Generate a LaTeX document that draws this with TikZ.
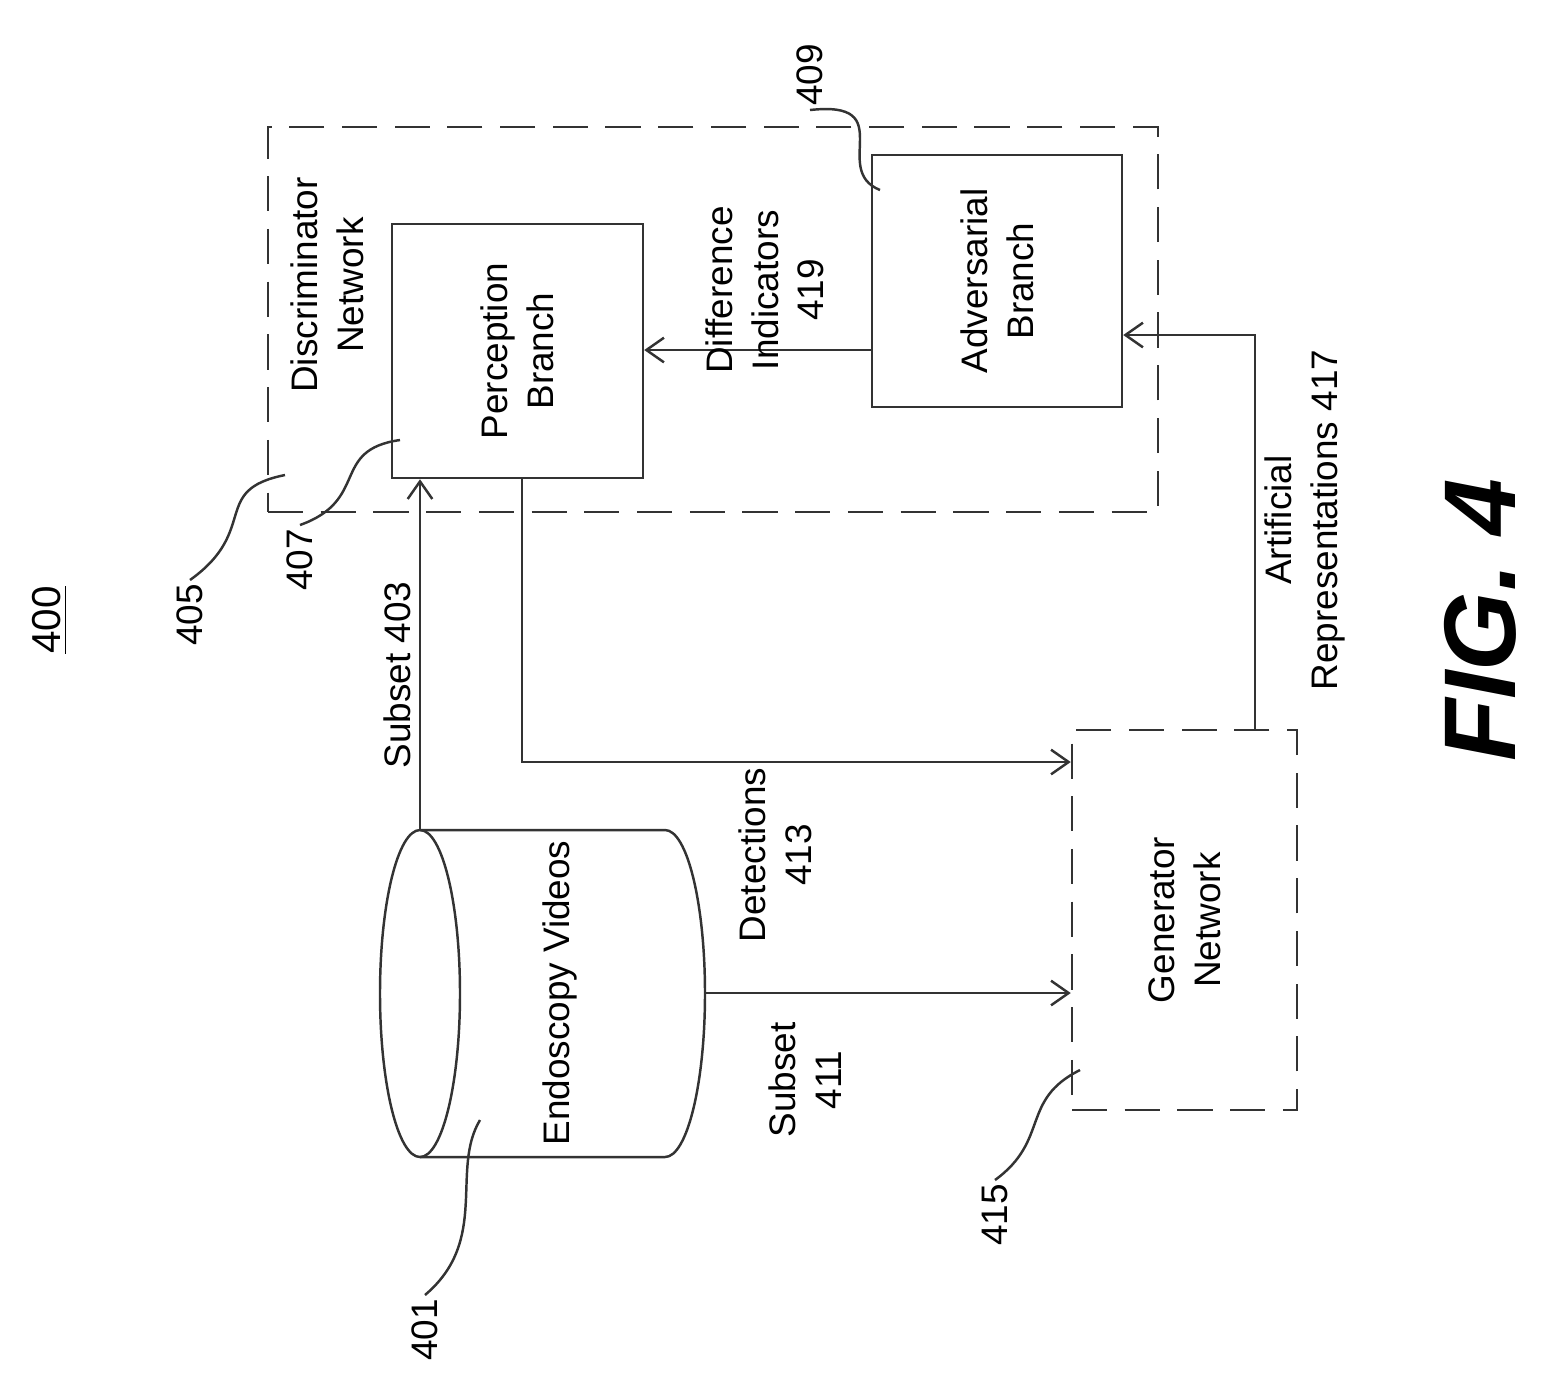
\documentclass[tikz,border=0pt]{standalone}
\usepackage{fontspec}
\setmainfont{Liberation Sans}
\usetikzlibrary{positioning,arrows.meta,shapes.geometric,calc}

\begin{document}
\begin{tikzpicture}[
    font=\fontsize{10.5}{13}\selectfont,
    box/.style={rectangle,draw=black!80,line width=0.7pt,inner sep=0pt},
    dbox/.style={box,dash pattern=on 10pt off 5pt},
    arrow/.style={-{Straight Barb[length=5pt,width=7pt]},line width=0.7pt,black!80},
    lbl/.style={rotate=90,align=center,inner sep=1pt},
    lead/.style={line width=0.7pt,black!80}
]
\useasboundingbox (0,0) rectangle (15.41,-13.87);

% blocks
\node[dbox,minimum width=8.9cm,minimum height=3.85cm] (disc) at (7.13,-3.195) {};
\node[box,minimum width=2.51cm,minimum height=2.54cm] (perc) at (5.175,-3.51) {};
\node[box,minimum width=2.5cm,minimum height=2.52cm] (adv) at (9.97,-2.81) {};
\node[dbox,minimum width=2.25cm,minimum height=3.8cm] (gen) at (11.845,-9.2) {};
\node[inner sep=0pt,minimum width=3.25cm,minimum height=3.27cm] (vid) at (5.425,-9.935) {};
% cylinder
\draw[lead] (4.2,-9.935) ellipse [x radius=0.4cm,y radius=1.635cm];
\draw[lead] (4.2,-8.3) -- (6.65,-8.3) arc[start angle=90,end angle=-90,x radius=0.4cm,y radius=1.635cm] -- (4.2,-11.57);

% texts inside
\node[lbl] at (3.27,-2.85) {Discriminator\\Network};
\node[lbl] at (perc.center) {Perception\\Branch};
\node[lbl] at (adv.center) {Adversarial\\Branch};
\node[lbl] at (gen.center) {Generator\\Network};
\node[lbl] at (5.6,-9.93) {Endoscopy Videos};

% connectors
\coordinate (s403) at (4.2,-8.3);
\coordinate (bend1) at (5.22,-7.62);
\coordinate (bend2) at (12.55,-3.35);
\draw[arrow] (s403) -- (s403 |- perc.south);
\draw[arrow] (perc.south -| bend1) -- (bend1) -- (bend1 -| gen.west);
\draw[arrow] (vid.east |- 0,-9.93) -- (gen.west |- 0,-9.93);
\draw[arrow] (gen.north -| bend2) -- (bend2) -- (bend2 -| adv.east);
\draw[arrow] (adv.west |- 0,-3.5) -- (perc.east |- 0,-3.5);

% connector labels
\node[lbl] at (3.97,-6.75) {Subset 403};
\node[lbl] at (7.75,-8.55) {Detections\\413};
\node[lbl] at (8.05,-10.8) {Subset\\411};
\node[lbl] at (13.05,-5.2) {Artificial\\Representations 417};
\node[lbl] at (7.65,-2.9) {Difference\\Indicators\\419};

% reference numerals
\node[lbl,font=\fontsize{11.5}{14}\selectfont] (n400) at (0.5,-6.2) {\underline{400}};
\node[lbl] (n405) at (1.9,-6.15) {405};
\node[lbl] (n407) at (3.0,-5.6) {407};
\node[lbl] (n409) at (8.1,-0.75) {409};
\node[lbl] (n415) at (9.95,-12.15) {415};
\node[lbl] (n401) at (4.25,-13.3) {401};
\draw[lead] (n405.east) .. controls (2.6,-5.3) and (2.1,-4.9) .. (2.85,-4.75);
\draw[lead] (n407.east) .. controls (3.7,-5.0) and (3.3,-4.5) .. (4.0,-4.4);
\draw[lead] (n409.west) .. controls (9.0,-1.0) and (8.3,-1.7) .. (8.8,-1.9);
\draw[lead] (n415.east) .. controls (10.5,-11.4) and (10.2,-11.0) .. (10.8,-10.7);
\draw[lead] (n401.east) .. controls (4.9,-12.4) and (4.5,-11.7) .. (4.8,-11.2);

\node[rotate=90,font=\fontsize{29}{33}\selectfont\bfseries\itshape] (fig) at (14.8,-6.2) {FIG. 4};
\end{tikzpicture}
\end{document}
